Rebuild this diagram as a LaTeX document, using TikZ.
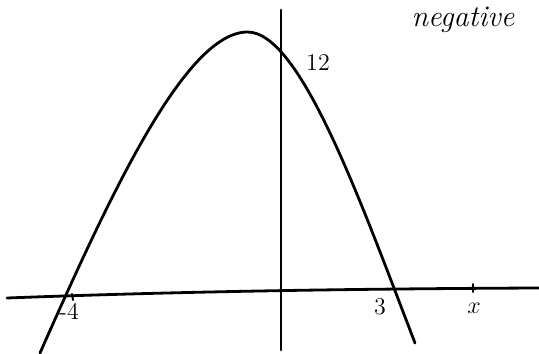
\documentclass[tikz,border=0pt]{standalone}
\usepackage{amsmath}
\usepackage{tikz}
\usetikzlibrary{calc}

\begin{document}
\begin{tikzpicture}[x=0.5pt,y=-0.5pt,line width=1.4pt,line cap=round,
  lbl/.style={font=\large, inner sep=0pt}]
\useasboundingbox (0,0) rectangle (539,353);
% Axes
\coordinate (xl) at (7,298);
\coordinate (xr) at (539,288);
\coordinate (yt) at (281,10);
\coordinate (yb) at (281,350);
\draw (xl) .. controls (140,293) and (300,289) .. (xr);
\draw (yt) -- (yb);

% ticks
\draw[line width=1pt] (72,294) -- (73,300);
\draw[line width=1pt] (473,284) -- (473,292);

% Hand drawn parabola
\coordinate (pl) at (40,353);
\coordinate (top) at (247,32);
\coordinate (pr) at (415,343);
\draw (pl) .. controls (110,195) and (185,33) .. (top)
           .. controls (300,31) and (360,200) .. (pr);

\node[lbl] (neg) at (463,20) {\fontsize{15}{17}\selectfont\itshape negative};
\node[lbl] (yint) at (318,63) {12};
\node[lbl] (rootl) at (69,311) {-4};
\node[lbl] (rootr) at (380,307) {3};
\node[lbl] (xlab) at (474,308) {$x$};
\end{tikzpicture}
\end{document}
